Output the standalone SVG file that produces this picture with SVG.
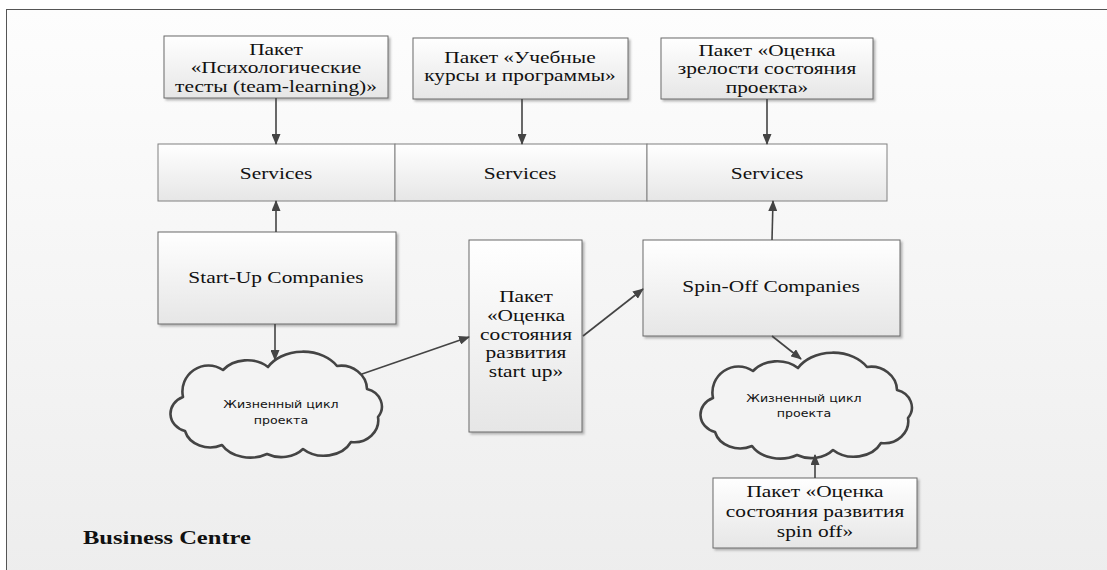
<svg xmlns="http://www.w3.org/2000/svg" width="1107" height="570" viewBox="0 0 1107 570">
<style>
.box{fill:url(#boxg);stroke:#6a6a6a;stroke-width:1;filter:url(#sh)}
.svc{fill:url(#boxg);stroke:#808080;stroke-width:1}
.t{font-family:'Liberation Serif','Times New Roman','DejaVu Serif',serif;font-size:17px;fill:#111;text-anchor:middle}
.tb{font-family:'Liberation Serif','Times New Roman','DejaVu Serif',serif;font-size:18.6px;font-weight:bold;fill:#111}
.ct{font-family:'DejaVu Sans','Noto Sans',sans-serif;font-size:10.5px;fill:#111;text-anchor:middle}
.cloud{fill:#f3f3f3;stroke:#444;stroke-width:2.6;stroke-linejoin:round}
.c{stroke:#444;stroke-width:1.6;fill:none;marker-end:url(#ah)}
</style>
<defs>
<linearGradient id="bg" x1="0" y1="0" x2="0" y2="1"><stop offset="0" stop-color="#fdfdfd"/><stop offset="1" stop-color="#ededed"/></linearGradient>
<linearGradient id="boxg" x1="0" y1="0" x2="0" y2="1"><stop offset="0" stop-color="#ffffff"/><stop offset="1" stop-color="#e6e6e6"/></linearGradient>
<filter id="sh" x="-5%" y="-5%" width="115%" height="120%"><feDropShadow dx="2" dy="2" stdDeviation="0.8" flood-color="#999" flood-opacity="0.7"/></filter>
<marker id="ah" markerUnits="userSpaceOnUse" markerWidth="11" markerHeight="9" refX="10" refY="4.5" orient="auto"><path d="M0,0 L11,4.5 L0,9 z" fill="#444"/></marker>
<path id="cl" d="M16,44 A26,26 0 0 1 56,17 A30,24 0 0 1 101,14 A40,30 0 0 1 170,13 A26,24 0 0 1 200,36 A20,18 0 0 1 211,64 A24,22 0 0 1 184,89 A30,24 0 0 1 136,96 A28,22 0 0 1 100,101 A32,24 0 0 1 55,92 A26,22 0 0 1 18,78 A20,18 0 0 1 16,44 Z"/>
</defs>
<rect x="0" y="0" width="1107" height="570" fill="#ffffff"/>
<rect x="6.5" y="9.5" width="1110" height="570" fill="url(#bg)" stroke="#555" stroke-width="1"/>

<g id="pkg-psych">
<rect class="box" x="164" y="36" width="224" height="62"/>
<g transform="translate(276 0) scale(1.26 1)"><text class="t" x="0" y="55">Пакет</text><text class="t" x="0" y="73.5">«Психологические</text><text class="t" x="0" y="92">тесты (team-learning)»</text></g>
</g>
<g id="pkg-courses">
<rect class="box" x="413" y="38" width="215" height="61"/>
<g transform="translate(520 0) scale(1.26 1)"><text class="t" x="0" y="63">Пакет «Учебные</text><text class="t" x="0" y="81.5">курсы и программы»</text></g>
</g>
<g id="pkg-maturity">
<rect class="box" x="661" y="38" width="212" height="61"/>
<g transform="translate(767 0) scale(1.26 1)"><text class="t" x="0" y="56">Пакет «Оценка</text><text class="t" x="0" y="74.5">зрелости состояния</text><text class="t" x="0" y="93">проекта»</text></g>
</g>

<g id="services-1">
<rect class="svc" x="158" y="144" width="237" height="57"/>
<g transform="translate(276 0) scale(1.26 1)"><text class="t" x="0" y="179">Services</text></g>
</g>
<g id="services-2">
<rect class="svc" x="395" y="144" width="252" height="57"/>
<g transform="translate(520 0) scale(1.26 1)"><text class="t" x="0" y="179">Services</text></g>
</g>
<g id="services-3">
<rect class="svc" x="647" y="144" width="240" height="57"/>
<g transform="translate(767 0) scale(1.26 1)"><text class="t" x="0" y="179">Services</text></g>
</g>

<g id="startup">
<rect class="box" x="158" y="232" width="238" height="92"/>
<g transform="translate(276 0) scale(1.26 1)"><text class="t" x="0" y="283">Start-Up Companies</text></g>
</g>
<g id="pkg-startup">
<rect class="box" x="469" y="240" width="113" height="192"/>
<g transform="translate(526 0) scale(1.26 1)"><text class="t" x="0" y="302">Пакет</text><text class="t" x="0" y="321">«Оценка</text><text class="t" x="0" y="340">состояния</text><text class="t" x="0" y="358.5">развития</text><text class="t" x="0" y="377">start up»</text></g>
</g>
<g id="spinoff">
<rect class="box" x="643" y="240" width="257" height="96"/>
<g transform="translate(771 0) scale(1.26 1)"><text class="t" x="0" y="292">Spin-Off Companies</text></g>
</g>

<g id="cloud-1">
<use href="#cl" class="cloud" transform="translate(167 353)"/>
<g transform="translate(281 0) scale(1.2 1)"><text class="ct" x="0" y="408">Жизненный цикл</text><text class="ct" x="0" y="424">проекта</text></g>
</g>
<g id="cloud-2">
<use href="#cl" class="cloud" transform="translate(697 354)"/>
<g transform="translate(804 0) scale(1.2 1)"><text class="ct" x="0" y="402">Жизненный цикл</text><text class="ct" x="0" y="417">проекта</text></g>
</g>

<g id="pkg-spinoff">
<rect class="box" x="713" y="478" width="204" height="70"/>
<g transform="translate(815 0) scale(1.26 1)"><text class="t" x="0" y="497">Пакет «Оценка</text><text class="t" x="0" y="517">состояния развития</text><text class="t" x="0" y="537">spin off»</text></g>
</g>

<g id="label-bc">
<g transform="translate(83 0) scale(1.32 1)"><text class="tb" x="0" y="544">Business Centre</text></g>
</g>

<g id="connectors">
<path class="c" d="M276,98 L276,144"/>
<path class="c" d="M522,99 L522,144"/>
<path class="c" d="M767,99 L767,144"/>
<path class="c" d="M276,232 L276,201"/>
<path class="c" d="M275,324 L275,360"/>
<path class="c" d="M362,374 L469,337"/>
<path class="c" d="M583,336 L643,289"/>
<path class="c" d="M772,240 L773,201"/>
<path class="c" d="M772,336 L801,359"/>
<path class="c" d="M815,478 L815,455"/>
</g>
</svg>
